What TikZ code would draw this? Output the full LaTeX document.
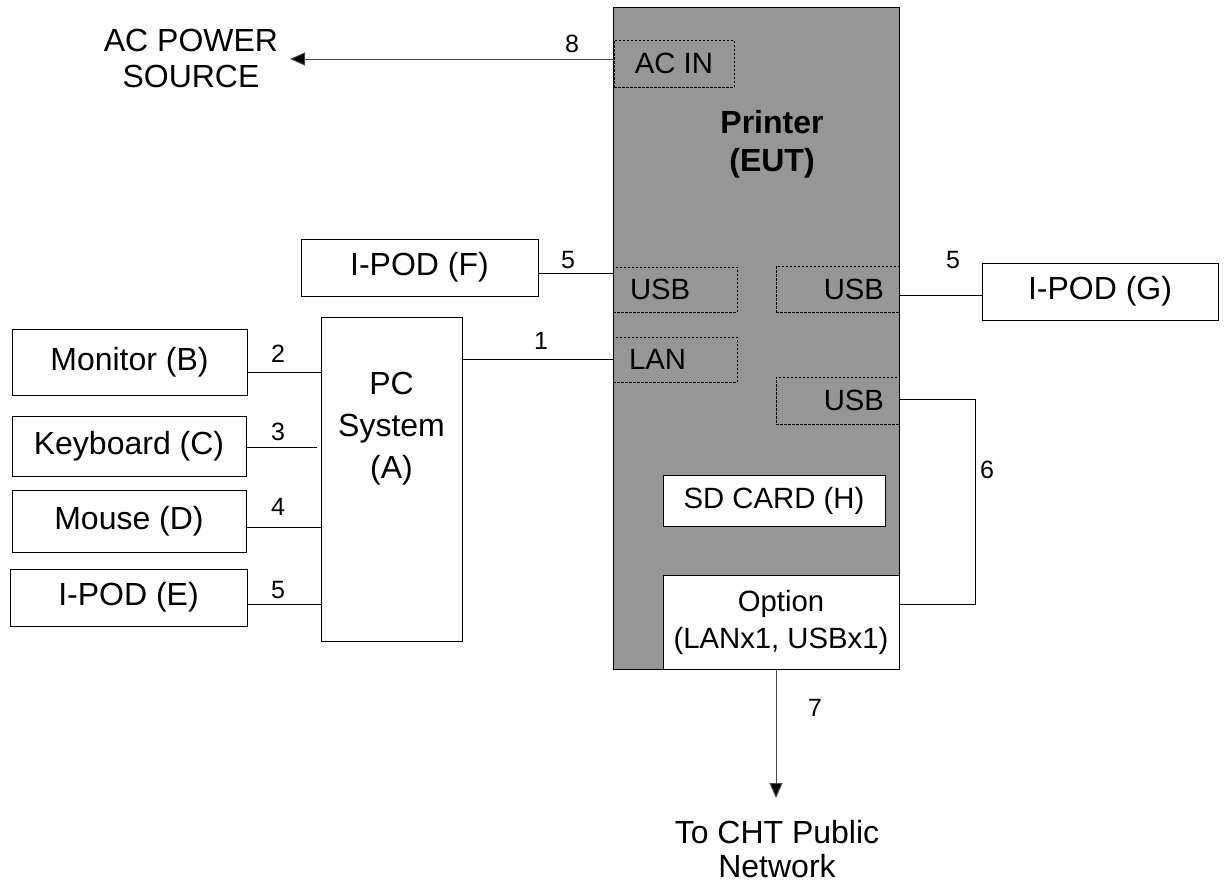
\documentclass[tikz,border=0pt]{standalone}
\usepackage{fontspec}
\setmainfont{Liberation Sans}
\usetikzlibrary{arrows.meta}
\definecolor{eutgray}{RGB}{150,150,150}
\tikzset{
  bigfont/.style={font=\fontsize{32}{37}\selectfont},
  smallfont/.style={font=\fontsize{29.3}{37}\selectfont},
  txt/.style={bigfont, align=center, inner sep=0pt},
  num/.style={font=\fontsize{25}{30}\selectfont, inner sep=0pt},
  box/.style={draw=black, line width=1pt, fill=white, inner sep=0pt, bigfont, align=center},
  port/.style={draw=black, line width=0.8pt, dash pattern=on 2.5pt off 1.5pt, inner sep=0pt, smallfont},
  wire/.style={line width=1pt, draw=black},
  awire/.style={line width=1pt, draw=black!70, -{Triangle[length=15pt,width=13pt,fill=black]}},
}
\begin{document}
\begin{tikzpicture}[x=1pt,y=-1pt]
\useasboundingbox (0,0) rectangle (1224,884);
% printer
\node[draw=black, line width=1pt, fill=eutgray, minimum width=286, minimum height=662, inner sep=0pt] (printer) at (756,338) {};
\node[txt, font=\fontsize{32}{38}\selectfont\bfseries] (ptext) at (772,144) {Printer\\(EUT)};
\node[port, minimum width=120, minimum height=47] (acin) at (674,63.5) {AC IN};
\node[port, minimum width=124, minimum height=45, text width=90, align=left] (usbL) at (675,289.5) {USB};
\node[port, minimum width=123, minimum height=46, text width=93, align=right] (usbR) at (837.5,289) {USB};
\node[port, minimum width=124, minimum height=45, text width=92, align=left] (lan) at (675,359.5) {LAN};
\node[port, minimum width=123, minimum height=47, text width=93, align=right] (usbR2) at (837.5,400.5) {USB};
\node[box, smallfont, minimum width=222, minimum height=51] (sd) at (774,500.5) {SD CARD (H)};
\node[box, smallfont, minimum width=236, minimum height=94] (option) at (781,622) {Option\\(LANx1, USBx1)};
% PC
\node[box, minimum width=141, minimum height=324] (pc) at (391.5,479) {};
\node[txt, font=\fontsize{32}{42}\selectfont] (pctext) at (391.5,429) {PC\\System\\(A)};
% left boxes
\node[box, minimum width=235, minimum height=66] (mon) at (129.5,362) {Monitor (B)};
\node[box, minimum width=234, minimum height=60] (kbd) at (129,446) {Keyboard (C)};
\node[box, minimum width=234, minimum height=62] (mouse) at (129,521) {Mouse (D)};
\node[box, minimum width=237, minimum height=57] (ipodE) at (128.5,597.5) {I-POD (E)};
\node[box, minimum width=237, minimum height=57] (ipodF) at (419.5,267.5) {I-POD (F)};
\node[box, minimum width=236, minimum height=57] (ipodG) at (1100,291.5) {I-POD (G)};
% external texts
\node[txt, font=\fontsize{32}{36}\selectfont] (acsrc) at (191,58) {AC POWER\\SOURCE};
\node[txt, font=\fontsize{32}{34}\selectfont] (cht) at (777,849) {To CHT Public\\Network};
% free ends
\coordinate (acend) at (290,59);
\coordinate (netend) at (776,798);
\coordinate (c6top) at (975,399);
\coordinate (c6bot) at (975,604);
% connectors
\draw[awire] (acin.west |- 0,59) -- (acend);
\draw[wire] (lan.west) -- (lan.west -| pc.east);
\draw[wire] (mon.east |- 0,372) -- (pc.west |- 0,372);
\draw[wire] (kbd.east |- 0,447) -- (317,447);
\draw[wire] (mouse.east |- 0,527) -- (pc.west |- 0,527);
\draw[wire] (ipodE.east |- 0,604) -- (pc.west |- 0,604);
\draw[wire] (ipodF.east |- 0,273) -- (usbL.west |- 0,273);
\draw[wire] (usbR.east |- 0,295) -- (ipodG.west |- 0,295);
\draw[wire] (usbR2.east |- c6top) -- (c6top) -- (c6bot) -- (c6bot -| option.east);
\draw[awire] (option.south -| netend) -- (netend);
% numbers
\node[num] (n8) at (572,44) {8};
\node[num] (n5f) at (568,260) {5};
\node[num] (n5g) at (953,260) {5};
\node[num] (n1) at (541,341) {1};
\node[num] (n2) at (278,354) {2};
\node[num] (n3) at (278,432) {3};
\node[num] (n4) at (278,507) {4};
\node[num] (n5e) at (278,590) {5};
\node[num] (n6) at (987,470) {6};
\node[num] (n7) at (815,708) {7};
\end{tikzpicture}
\end{document}
